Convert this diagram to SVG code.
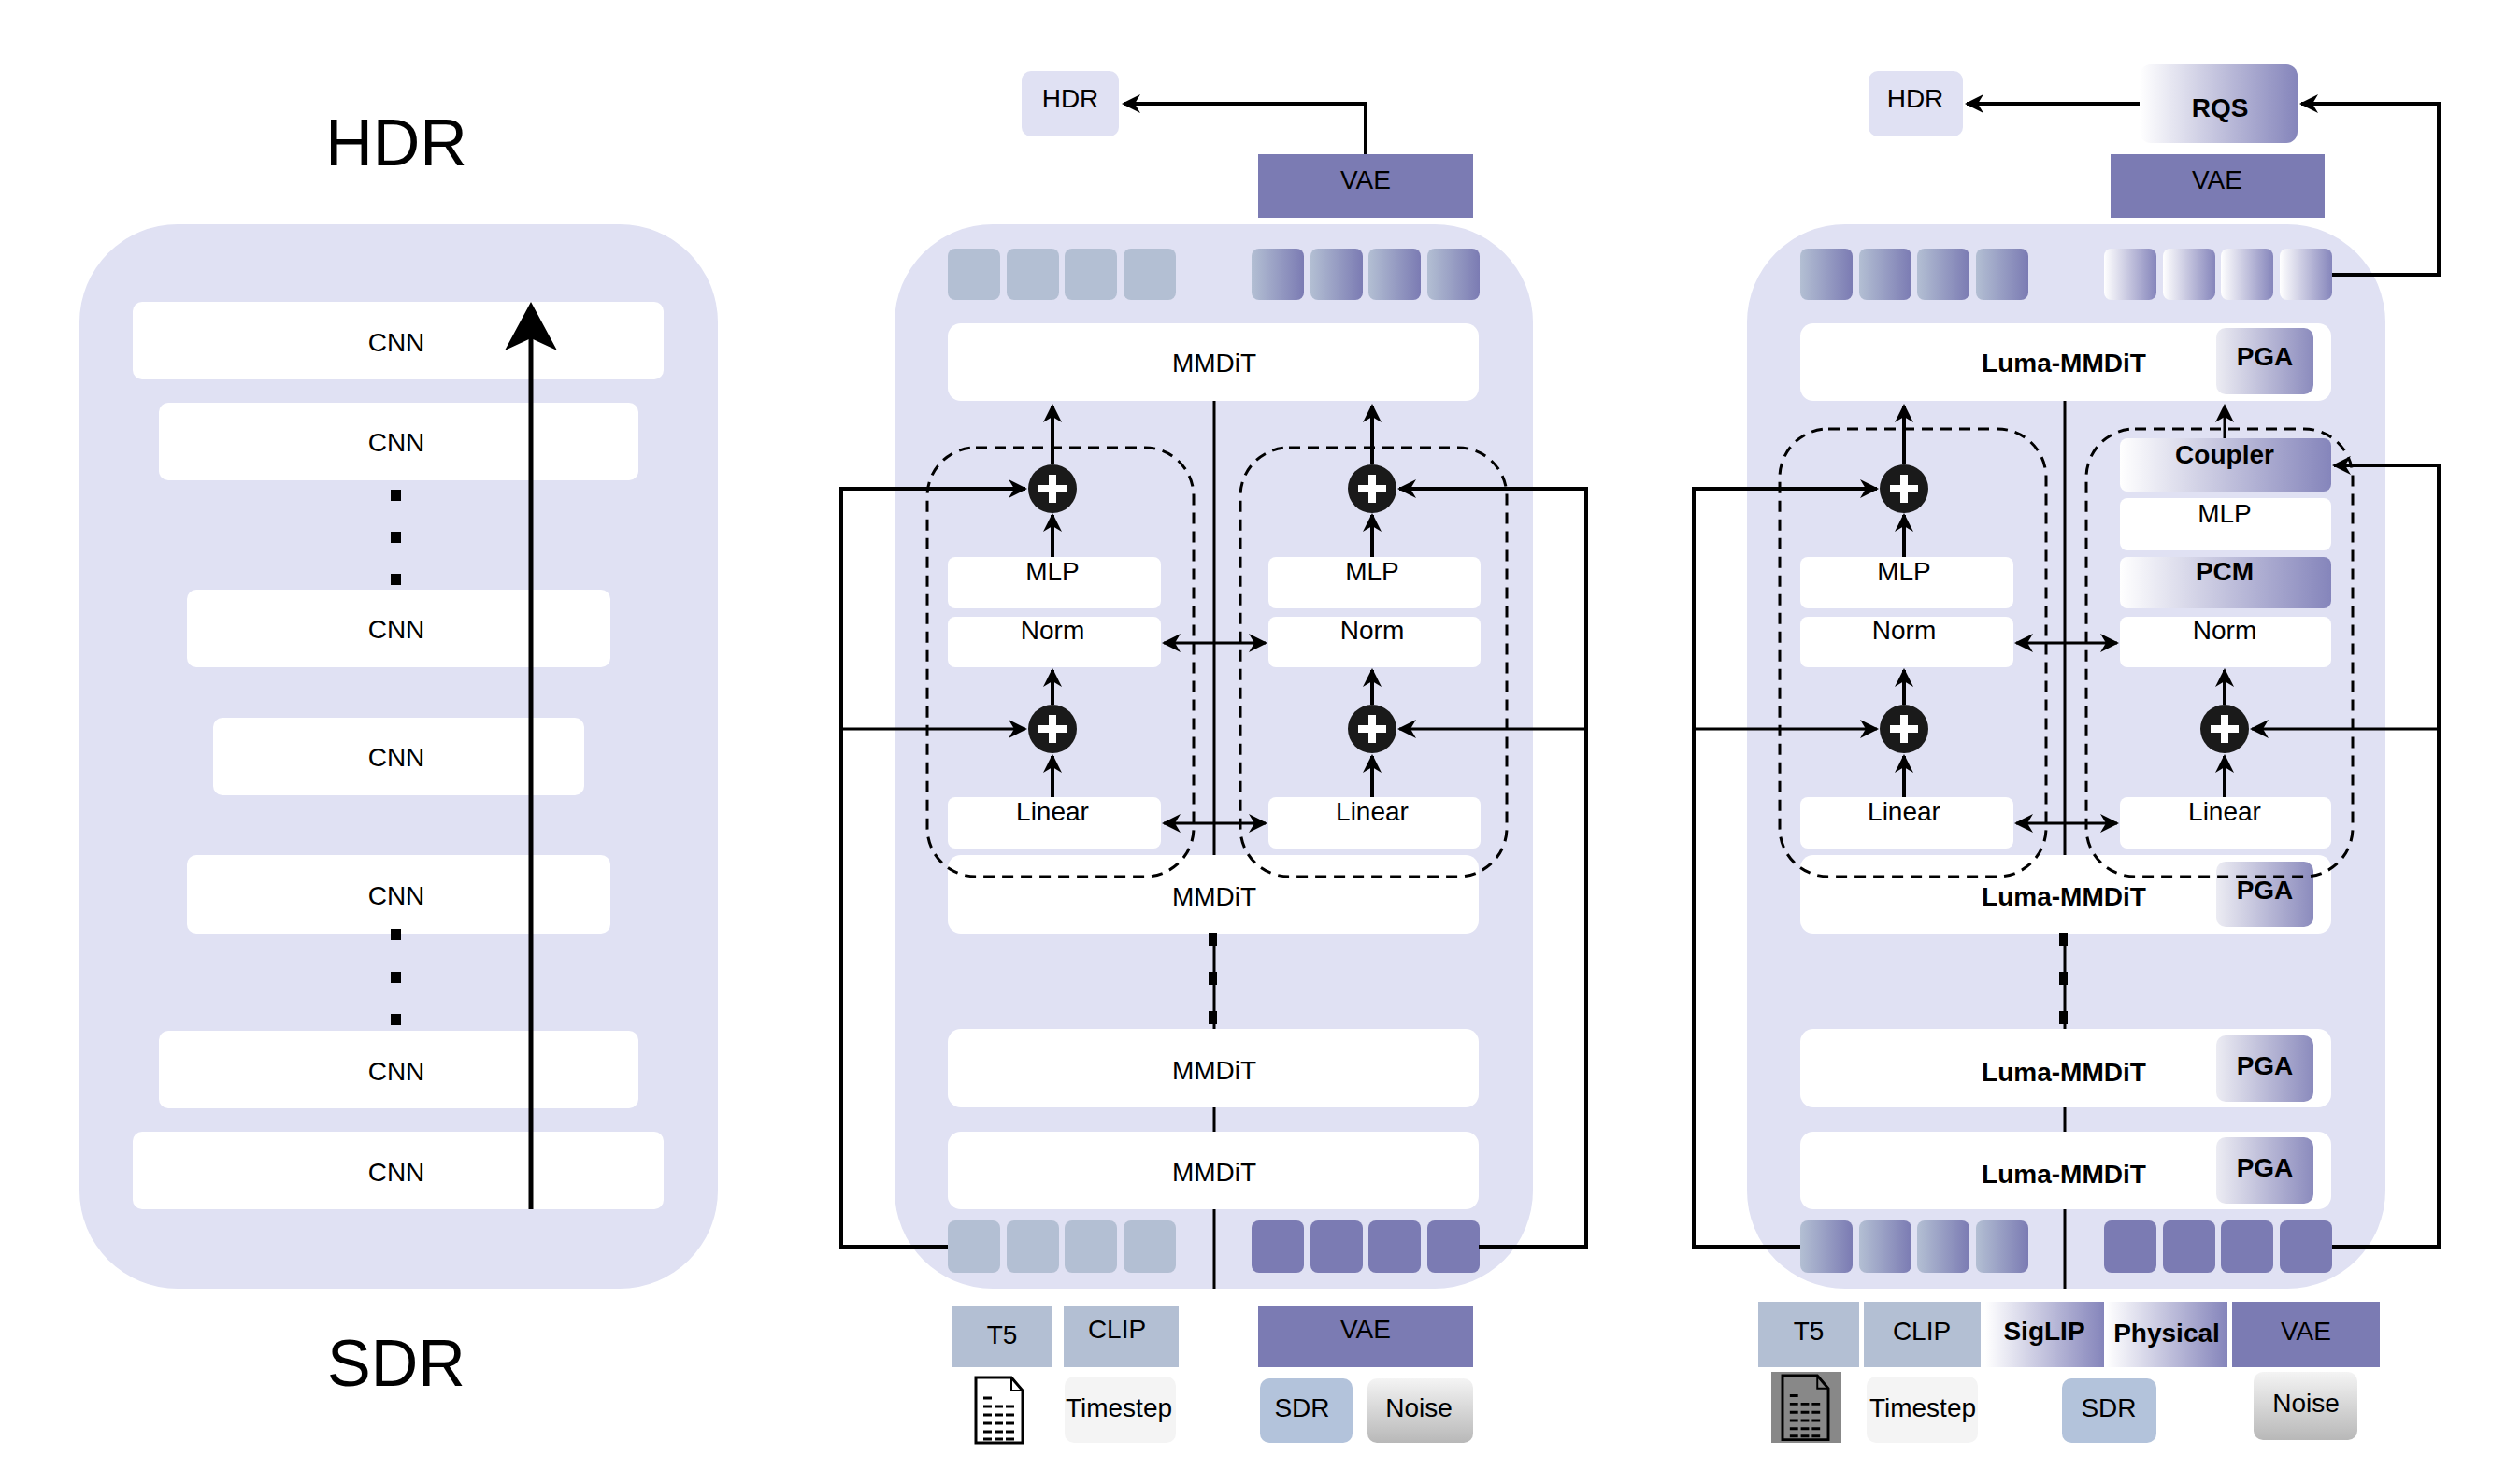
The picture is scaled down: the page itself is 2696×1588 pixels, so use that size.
<svg xmlns="http://www.w3.org/2000/svg" width="2696" height="1588" viewBox="0 0 2696 1588">
<style>
text{font-family:"Liberation Sans",Arial,sans-serif;font-size:28px;fill:#000;text-anchor:middle;dominant-baseline:central}
.b{font-weight:bold}
.bg{fill:#e0e1f3}
.w{fill:#fff}
.ln{stroke:#000;stroke-width:3;fill:none}
.th{stroke:#000;stroke-width:4;fill:none}
.dash{stroke:#000;stroke-width:3;fill:none;stroke-dasharray:12 8}
.tl{fill:#b3bfd3}
.dk{fill:#7b7bb3}
</style>
<defs>
<marker id="a" viewBox="0 0 10 10" refX="9" refY="5" markerWidth="8" markerHeight="8" markerUnits="userSpaceOnUse" orient="auto-start-reverse"><path d="M0,0 L10,5 L0,10 L3,5 z" fill="#000"/></marker>
<marker id="m" viewBox="0 0 10 10" refX="9" refY="5" markerWidth="20" markerHeight="20" markerUnits="userSpaceOnUse" orient="auto-start-reverse"><path d="M0,0 L10,5 L0,10 L3,5 z" fill="#000"/></marker>
<linearGradient id="g1"><stop offset="0" stop-color="#b3bfd3"/><stop offset="1" stop-color="#7b7bb3"/></linearGradient>
<linearGradient id="g2"><stop offset="0" stop-color="#fff"/><stop offset="1" stop-color="#8585bb"/></linearGradient>
<linearGradient id="g3"><stop offset="0" stop-color="#ececf3"/><stop offset="1" stop-color="#8b8bbd"/></linearGradient>
<linearGradient id="gn" x1="0" y1="0" x2="0" y2="1"><stop offset="0" stop-color="#f4f4f4"/><stop offset="1" stop-color="#b8b8b8"/></linearGradient>
<g id="plus"><circle r="26" fill="#1a1a1a"/><path d="M-15,0H15M0,-15V15" stroke="#fff" stroke-width="8"/></g>
<g id="doc"><path d="M0,0H38L50,14V70H0Z" fill="#fff" stroke="#000" stroke-width="3"/><path d="M38,0V14H50" fill="none" stroke="#000" stroke-width="2"/><path d="M8,22H20M8,31H42M8,40H42M8,49H42M8,58H42M8,66H42" stroke="#000" stroke-width="3" stroke-dasharray="9 3"/></g>
</defs>

<!-- Left panel -->
<g id="left">
<rect class="bg" x="85" y="240" width="683" height="1139" rx="105"/>
<text x="424" y="153" style="font-size:70px">HDR</text>
<text x="424" y="1459" style="font-size:70px">SDR</text>
<g id="cnn1"><rect class="w" x="142" y="323" width="568" height="83" rx="10"/><text x="424" y="366">CNN</text></g>
<g id="cnn2"><rect class="w" x="170" y="431" width="513" height="83" rx="10"/><text x="424" y="473">CNN</text></g>
<g id="cnn3"><rect class="w" x="200" y="631" width="453" height="83" rx="10"/><text x="424" y="673">CNN</text></g>
<g id="cnn4"><rect class="w" x="228" y="768" width="397" height="83" rx="10"/><text x="424" y="810">CNN</text></g>
<g id="cnn5"><rect class="w" x="200" y="915" width="453" height="84" rx="10"/><text x="424" y="958">CNN</text></g>
<g id="cnn6"><rect class="w" x="170" y="1103" width="513" height="83" rx="10"/><text x="424" y="1146">CNN</text></g>
<g id="cnn7"><rect class="w" x="142" y="1211" width="568" height="83" rx="10"/><text x="424" y="1254">CNN</text></g>
<g fill="#000"><rect x="418" y="524" width="11" height="12"/><rect x="418" y="569" width="11" height="12"/><rect x="418" y="614" width="11" height="12"/><rect x="418" y="994" width="11" height="12"/><rect x="418" y="1040" width="11" height="12"/><rect x="418" y="1085" width="11" height="12"/></g>
<path d="M568,1294V330" stroke="#000" stroke-width="5"/>
<path d="M568,323 L596,375 L568,362 L540,375Z" fill="#000"/>
</g>

<!-- Middle panel -->
<g id="middle">
<rect class="bg" x="957" y="240" width="683" height="1139" rx="105"/>
<g id="m-hdr"><rect x="1093" y="76" width="104" height="70" rx="10" class="bg"/><text x="1145" y="105">HDR</text></g>
<g id="m-vae"><rect class="dk" x="1346" y="165" width="230" height="68"/><text x="1461" y="192">VAE</text></g>
<g id="m-tok-top">
<rect class="tl" x="1014" y="266" width="56" height="55" rx="8"/><rect class="tl" x="1077" y="266" width="56" height="55" rx="8"/><rect class="tl" x="1139" y="266" width="56" height="55" rx="8"/><rect class="tl" x="1202" y="266" width="56" height="55" rx="8"/>
<rect fill="url(#g1)" x="1339" y="266" width="56" height="55" rx="8"/><rect fill="url(#g1)" x="1402" y="266" width="56" height="55" rx="8"/><rect fill="url(#g1)" x="1464" y="266" width="56" height="55" rx="8"/><rect fill="url(#g1)" x="1527" y="266" width="56" height="55" rx="8"/>
</g>
<g id="m-mmdit1"><rect class="w" x="1014" y="346" width="568" height="83" rx="14"/><text x="1299" y="388">MMDiT</text></g>
<g id="m-mlpL"><rect class="w" x="1014" y="596" width="228" height="55" rx="8"/><text x="1126" y="611">MLP</text></g>
<g id="m-normL"><rect class="w" x="1014" y="660" width="228" height="54" rx="8"/><text x="1126" y="674">Norm</text></g>
<g id="m-linL"><rect class="w" x="1014" y="853" width="228" height="55" rx="8"/><text x="1126" y="868">Linear</text></g>
<g id="m-mlpR"><rect class="w" x="1357" y="596" width="227" height="55" rx="8"/><text x="1468" y="611">MLP</text></g>
<g id="m-normR"><rect class="w" x="1357" y="660" width="227" height="54" rx="8"/><text x="1468" y="674">Norm</text></g>
<g id="m-linR"><rect class="w" x="1357" y="853" width="227" height="55" rx="8"/><text x="1468" y="868">Linear</text></g>
<g id="m-mmdit2"><rect class="w" x="1014" y="915" width="568" height="84" rx="14"/><text x="1299" y="959">MMDiT</text></g>
<g id="m-mmdit3"><rect class="w" x="1014" y="1101" width="568" height="84" rx="14"/><text x="1299" y="1145">MMDiT</text></g>
<g id="m-mmdit4"><rect class="w" x="1014" y="1211" width="568" height="83" rx="14"/><text x="1299" y="1254">MMDiT</text></g>
<g id="m-tok-bot">
<rect class="tl" x="1014" y="1306" width="56" height="56" rx="8"/><rect class="tl" x="1077" y="1306" width="56" height="56" rx="8"/><rect class="tl" x="1139" y="1306" width="56" height="56" rx="8"/><rect class="tl" x="1202" y="1306" width="56" height="56" rx="8"/>
<rect class="dk" x="1339" y="1306" width="56" height="56" rx="8"/><rect class="dk" x="1402" y="1306" width="56" height="56" rx="8"/><rect class="dk" x="1464" y="1306" width="56" height="56" rx="8"/><rect class="dk" x="1527" y="1306" width="56" height="56" rx="8"/>
</g>
<use href="#plus" x="1126" y="523"/><use href="#plus" x="1126" y="780"/><use href="#plus" x="1468" y="523"/><use href="#plus" x="1468" y="780"/>
<g id="m-t5"><rect class="tl" x="1018" y="1397" width="108" height="66"/><text x="1072" y="1428">T5</text></g>
<g id="m-clip"><rect class="tl" x="1138" y="1397" width="123" height="66"/><text x="1195" y="1422">CLIP</text></g>
<g id="m-vae2"><rect class="dk" x="1346" y="1397" width="230" height="66"/><text x="1461" y="1422">VAE</text></g>
<g id="m-doc"><use href="#doc" x="1044" y="1474"/></g>
<g id="m-ts"><rect fill="#f4f4f4" x="1139" y="1473" width="119" height="71" rx="10"/><text x="1197" y="1506">Timestep</text></g>
<g id="m-sdr"><rect fill="#b3c3db" x="1348" y="1475" width="99" height="69" rx="10"/><text x="1393" y="1506">SDR</text></g>
<g id="m-noise"><rect fill="url(#gn)" x="1463" y="1475" width="113" height="69" rx="10"/><text x="1518" y="1506">Noise</text></g>
</g>

<!-- Right panel -->
<g id="right">
<rect class="bg" x="1869" y="240" width="683" height="1139" rx="105"/>
<g id="r-hdr"><rect x="1999" y="76" width="101" height="70" rx="10" class="bg"/><text x="2049" y="105">HDR</text></g>
<g id="r-rqs"><rect fill="url(#g2)" x="2289" y="69" width="169" height="84" rx="12"/><text class="b" x="2375" y="115">RQS</text></g>
<g id="r-vae"><rect class="dk" x="2258" y="165" width="229" height="68"/><text x="2372" y="192">VAE</text></g>
<g id="r-tok-top">
<rect fill="url(#g1)" x="1926" y="266" width="56" height="55" rx="8"/><rect fill="url(#g1)" x="1989" y="266" width="56" height="55" rx="8"/><rect fill="url(#g1)" x="2051" y="266" width="56" height="55" rx="8"/><rect fill="url(#g1)" x="2114" y="266" width="56" height="55" rx="8"/>
<rect fill="url(#g2)" x="2251" y="266" width="56" height="55" rx="8"/><rect fill="url(#g2)" x="2314" y="266" width="56" height="55" rx="8"/><rect fill="url(#g2)" x="2376" y="266" width="56" height="55" rx="8"/><rect fill="url(#g2)" x="2439" y="266" width="56" height="55" rx="8"/>
</g>
<g id="r-luma1"><rect class="w" x="1926" y="346" width="568" height="83" rx="14"/><text class="b" x="2208" y="388">Luma-MMDiT</text><rect fill="url(#g3)" x="2371" y="351" width="104" height="71" rx="10"/><text class="b" x="2423" y="381">PGA</text></g>
<g id="r-mlpL"><rect class="w" x="1926" y="596" width="228" height="55" rx="8"/><text x="2037" y="611">MLP</text></g>
<g id="r-normL"><rect class="w" x="1926" y="660" width="228" height="54" rx="8"/><text x="2037" y="674">Norm</text></g>
<g id="r-linL"><rect class="w" x="1926" y="853" width="228" height="55" rx="8"/><text x="2037" y="868">Linear</text></g>
<g id="r-coupler"><rect fill="url(#g2)" x="2268" y="469" width="226" height="57" rx="8"/><text class="b" x="2380" y="486">Coupler</text></g>
<g id="r-mlpR"><rect class="w" x="2268" y="533" width="226" height="56" rx="8"/><text x="2380" y="549">MLP</text></g>
<g id="r-pcm"><rect fill="url(#g2)" x="2268" y="596" width="226" height="55" rx="8"/><text class="b" x="2380" y="611">PCM</text></g>
<g id="r-normR"><rect class="w" x="2268" y="660" width="226" height="54" rx="8"/><text x="2380" y="674">Norm</text></g>
<g id="r-linR"><rect class="w" x="2268" y="853" width="226" height="55" rx="8"/><text x="2380" y="868">Linear</text></g>
<g id="r-luma2"><rect class="w" x="1926" y="915" width="568" height="84" rx="14"/><text class="b" x="2208" y="959">Luma-MMDiT</text><rect fill="url(#g3)" x="2371" y="922" width="104" height="70" rx="10"/><text class="b" x="2423" y="952">PGA</text></g>
<g id="r-luma3"><rect class="w" x="1926" y="1101" width="568" height="84" rx="14"/><text class="b" x="2208" y="1147">Luma-MMDiT</text><rect fill="url(#g3)" x="2371" y="1108" width="104" height="71" rx="10"/><text class="b" x="2423" y="1140">PGA</text></g>
<g id="r-luma4"><rect class="w" x="1926" y="1211" width="568" height="83" rx="14"/><text class="b" x="2208" y="1256">Luma-MMDiT</text><rect fill="url(#g3)" x="2371" y="1217" width="104" height="71" rx="10"/><text class="b" x="2423" y="1249">PGA</text></g>
<g id="r-tok-bot">
<rect fill="url(#g1)" x="1926" y="1306" width="56" height="56" rx="8"/><rect fill="url(#g1)" x="1989" y="1306" width="56" height="56" rx="8"/><rect fill="url(#g1)" x="2051" y="1306" width="56" height="56" rx="8"/><rect fill="url(#g1)" x="2114" y="1306" width="56" height="56" rx="8"/>
<rect class="dk" x="2251" y="1306" width="56" height="56" rx="8"/><rect class="dk" x="2314" y="1306" width="56" height="56" rx="8"/><rect class="dk" x="2376" y="1306" width="56" height="56" rx="8"/><rect class="dk" x="2439" y="1306" width="56" height="56" rx="8"/>
</g>
<use href="#plus" x="2037" y="523"/><use href="#plus" x="2037" y="780"/><use href="#plus" x="2380" y="780"/>
<g id="r-t5"><rect class="tl" x="1881" y="1393" width="108" height="70"/><text x="1935" y="1424">T5</text></g>
<g id="r-clip"><rect class="tl" x="1994" y="1393" width="125" height="70"/><text x="2056" y="1424">CLIP</text></g>
<g id="r-siglip"><rect fill="url(#g2)" x="2124" y="1393" width="127" height="70"/><text class="b" x="2187" y="1424">SigLIP</text></g>
<g id="r-phys"><rect fill="url(#g2)" x="2253" y="1393" width="130" height="70"/><text class="b" x="2318" y="1426">Physical</text></g>
<g id="r-vae2"><rect class="dk" x="2388" y="1393" width="158" height="70"/><text x="2467" y="1424">VAE</text></g>
<g id="r-doc"><rect fill="#888" x="1895" y="1468" width="75" height="76"/><g transform="translate(1907,1472) scale(0.98)"><path d="M0,0H38L50,14V70H0Z" fill="#888" stroke="#000" stroke-width="3"/><path d="M38,0V14H50" fill="none" stroke="#000" stroke-width="2"/><path d="M8,22H20M8,31H42M8,40H42M8,49H42M8,58H42M8,66H42" stroke="#000" stroke-width="3" stroke-dasharray="9 3"/></g></g>
<g id="r-ts"><rect fill="#f4f4f4" x="1997" y="1473" width="119" height="71" rx="10"/><text x="2057" y="1506">Timestep</text></g>
<g id="r-sdr"><rect fill="#b3c3db" x="2206" y="1475" width="101" height="69" rx="10"/><text x="2256" y="1506">SDR</text></g>
<g id="r-noise"><rect fill="url(#gn)" x="2411" y="1468" width="111" height="73" rx="10"/><text x="2467" y="1501">Noise</text></g>
</g>

<!-- Connectors -->
<g id="connectors">
<path class="th" d="M1461,165V111H1202" marker-end="url(#m)"/>
<path class="ln" d="M1299,429V915M1299,1185V1211M1299,1294V1379"/>
<path class="ln" d="M1299,999V1101"/>
<g fill="#000"><rect x="1293" y="998" width="9" height="14"/><rect x="1293" y="1040" width="9" height="14"/><rect x="1293" y="1082" width="9" height="14"/></g>
<rect class="dash" x="992" y="479" width="285" height="459" rx="52"/>
<rect class="dash" x="1327" y="479" width="285" height="459" rx="52"/>
<path class="th" d="M1126,497V434" marker-end="url(#m)"/>
<path class="th" d="M1126,596V551" marker-end="url(#m)"/>
<path class="th" d="M1126,754V717" marker-end="url(#m)"/>
<path class="th" d="M1126,853V809" marker-end="url(#m)"/>
<path class="th" d="M1468,497V434" marker-end="url(#m)"/>
<path class="th" d="M1468,596V551" marker-end="url(#m)"/>
<path class="th" d="M1468,754V717" marker-end="url(#m)"/>
<path class="th" d="M1468,853V809" marker-end="url(#m)"/>
<path class="ln" d="M1245,688H1354" marker-start="url(#m)" marker-end="url(#m)"/>
<path class="ln" d="M1245,881H1354" marker-start="url(#m)" marker-end="url(#m)"/>
<path class="th" d="M1014,1334H900V523H1097" marker-end="url(#m)"/>
<path class="ln" d="M900,780H1097" marker-end="url(#m)"/>
<path class="th" d="M1582,1334H1697V523H1497" marker-end="url(#m)"/>
<path class="ln" d="M1697,780H1497" marker-end="url(#m)"/>

<path class="th" d="M2289,111H2104" marker-end="url(#m)"/>
<path class="th" d="M2495,294H2609V111H2462" marker-end="url(#m)"/>
<path class="ln" d="M2209,429V915M2209,1185V1211M2209,1294V1379"/>
<path class="ln" d="M2209,999V1101"/>
<g fill="#000"><rect x="2203" y="998" width="9" height="14"/><rect x="2203" y="1040" width="9" height="14"/><rect x="2203" y="1082" width="9" height="14"/></g>
<rect class="dash" x="1904" y="459" width="285" height="479" rx="52"/>
<rect class="dash" x="2232" y="459" width="285" height="479" rx="52"/>
<path class="th" d="M2037,497V434" marker-end="url(#m)"/>
<path class="th" d="M2037,596V551" marker-end="url(#m)"/>
<path class="th" d="M2037,754V717" marker-end="url(#m)"/>
<path class="th" d="M2037,853V809" marker-end="url(#m)"/>
<path class="ln" d="M2380,469V434" marker-end="url(#m)"/>
<path class="th" d="M2380,754V717" marker-end="url(#m)"/>
<path class="th" d="M2380,853V809" marker-end="url(#m)"/>
<path class="ln" d="M2157,688H2265" marker-start="url(#m)" marker-end="url(#m)"/>
<path class="ln" d="M2157,881H2265" marker-start="url(#m)" marker-end="url(#m)"/>
<path class="th" d="M1926,1334H1812V523H2008" marker-end="url(#m)"/>
<path class="ln" d="M1812,780H2008" marker-end="url(#m)"/>
<path class="th" d="M2495,1334H2609V498H2497" marker-end="url(#m)"/>
<path class="ln" d="M2609,780H2409" marker-end="url(#m)"/>
</g>
</svg>
